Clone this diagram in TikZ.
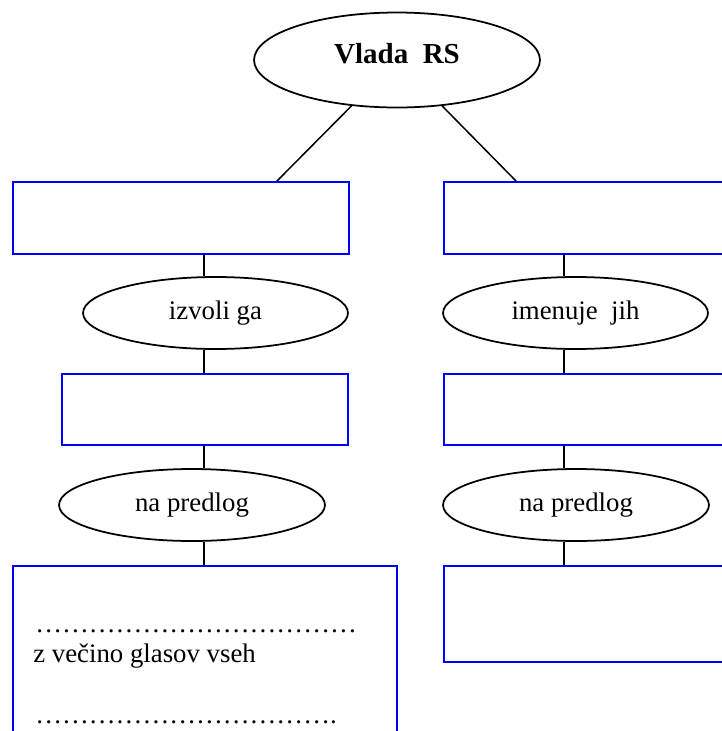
\documentclass[tikz,border=0pt]{standalone}
\usepackage{fontspec}
\setmainfont{Liberation Serif}
\usetikzlibrary{shapes.geometric,calc}
\begin{document}
\begin{tikzpicture}[x=0.02cm,y=-0.02cm,every node/.style={font=\fontsize{15.25}{18}\selectfont},
  oval/.style={draw,ellipse,line width=1pt,inner sep=0pt,minimum width=5.3cm,minimum height=1.44cm},
  box/.style={draw=blue,line width=1.1pt,anchor=north west,inner sep=0pt,minimum height=1.44cm},
  link/.style={line width=0.85pt},
  txt/.style={anchor=base west,inner sep=0pt}]
\useasboundingbox (0,0) rectangle (722,731);
\clip (0,0) rectangle (722,731);
\node[oval,minimum width=5.72cm,minimum height=1.9cm,text depth=0.26cm,font=\fontsize{16.5}{19}\selectfont\bfseries] (vlada) at (397,60) {Vlada~~RS};
\node[box,minimum width=6.72cm] (lbox1) at (12,181) {};
\node[box,minimum width=7.14cm] (rbox1) at (443,181) {};
\node[oval] (izvoli) at (215.5,313) {izvoli ga};
\node[oval] (imenuje) at (575.5,313) {imenuje~~jih};
\node[box,minimum width=5.72cm,minimum height=1.42cm] (lbox2) at (61,373) {};
\node[box,minimum width=7.14cm,minimum height=1.42cm] (rbox2) at (443,373) {};
\node[oval,minimum width=5.32cm] (lpred) at (192,505) {na predlog};
\node[oval,minimum width=5.32cm] (rpred) at (576,505) {na predlog};
\node[box,minimum width=7.68cm,minimum height=4.8cm] (lbox3) at (12,565) {};
\node[box,minimum width=7.14cm,minimum height=1.92cm] (rbox3) at (443,565) {};
\node[txt] (dots1) at (35,632) {\foreach \k in {1,...,12}{…}};
\node[txt] (vecino) at (33,662) {z večino glasov vseh};
\node[txt] (dots2) at (35,723) {\foreach \k in {1,...,11}{…}.};
\coordinate (lx) at (204,0);
\coordinate (rx) at (564,0);
\draw[link] (vlada) -- ($(lbox1.north west)+(265,0)$);
\draw[link] (vlada) -- ($(rbox1.north west)+(73,0)$);
\draw[link] (lbox1.south -| lx) -- (izvoli.north -| lx);
\draw[link] (izvoli.south -| lx) -- (lbox2.north -| lx);
\draw[link] (lbox2.south -| lx) -- (lpred.north -| lx);
\draw[link] (lpred.south -| lx) -- (lbox3.north -| lx);
\draw[link] (rbox1.south -| rx) -- (imenuje.north -| rx);
\draw[link] (imenuje.south -| rx) -- (rbox2.north -| rx);
\draw[link] (rbox2.south -| rx) -- (rpred.north -| rx);
\draw[link] (rpred.south -| rx) -- (rbox3.north -| rx);
\end{tikzpicture}
\end{document}
